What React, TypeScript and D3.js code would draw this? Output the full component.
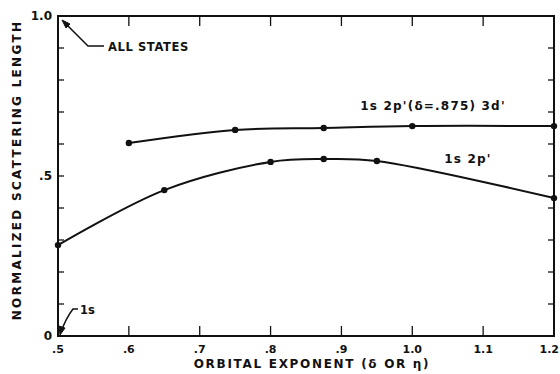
import React from "react";
import * as d3 from "d3";

const xTickValues = [0.5, 0.6, 0.7, 0.8, 0.9, 1.0, 1.1, 1.2];
const xTickLabels = [".5", ".6", ".7", ".8", ".9", "1.0", "1.1", "1.2"];
const yTickValues = [0, 0.5, 1.0];
const yTickLabels = ["0", ".5", "1.0"];

// 1s 2p'(δ=.875) 3d'
const upperX = [0.6, 0.75, 0.875, 1.0, 1.2];
const upperY = [0.603, 0.644, 0.65, 0.656, 0.656];
// 1s 2p'
const lowerX = [0.5, 0.65, 0.8, 0.875, 0.95, 1.2];
const lowerY = [0.284, 0.456, 0.544, 0.553, 0.547, 0.431];

const W = 560, H = 374;
const left = 58, right = 554, top = 16, bottom = 336;
const font = "'DejaVu Sans', sans-serif";

export default function App() {
  const x = d3.scaleLinear().domain([0.5, 1.2]).range([left, right]);
  const y = d3.scaleLinear().domain([0, 1]).range([bottom, top]);
  const line = d3.line<[number, number]>()
    .x(d => x(d[0])).y(d => y(d[1]))
    .curve(d3.curveCatmullRom.alpha(0.5));
  const upper = upperX.map((v, i) => [v, upperY[i]] as [number, number]);
  const lower = lowerX.map((v, i) => [v, lowerY[i]] as [number, number]);
  const minorY = d3.range(1, 10).map(i => i / 10);
  const minorX = d3.range(1, 7).map(i => 0.5 + i / 10);

  return (
    <svg width={W} height={H} style={{ position: "absolute", left: 0, top: 0, background: "#fff" }}>
      <g stroke="#111" fill="none" strokeWidth={2}>
        <rect x={left} y={top} width={right - left} height={bottom - top} strokeWidth={2} />
        {minorX.map(v => (
          <g key={v}>
            <line x1={x(v)} x2={x(v)} y1={bottom} y2={bottom - 10} strokeWidth={1.3} />
            <line x1={x(v)} x2={x(v)} y1={top} y2={top + 10} strokeWidth={1.3} />
          </g>
        ))}
        {minorY.map(v => (
          <g key={v}>
            <line x1={left} x2={left + 6} y1={y(v)} y2={y(v)} strokeWidth={1.3} />
            <line x1={right} x2={right - 6} y1={y(v)} y2={y(v)} strokeWidth={1.3} />
          </g>
        ))}
        <path d={line(upper) || ""} strokeWidth={2} />
        <path d={line(lower) || ""} strokeWidth={2} />
        {/* ALL STATES pointer */}
        <path d="M104,46 L88,46 L64,22" strokeWidth={1.5} />
        <path d="M62,20 L70,24 L66,28 Z" fill="#111" strokeWidth={1} />
        {/* 1s pointer */}
        <path d="M78,309 L73,309 Q66,318 61,332" strokeWidth={1.5} />
        <path d="M60,335 L59,326 L65,328 Z" fill="#111" strokeWidth={1} />
      </g>
      <g fill="#111">
        {upper.map((d, i) => <circle key={"u" + i} cx={x(d[0])} cy={y(d[1])} r={3.2} />)}
        {lower.map((d, i) => <circle key={"l" + i} cx={x(d[0])} cy={y(d[1])} r={3.2} />)}
      </g>
      <g fontFamily={font} fontWeight="bold" fontSize={11} fill="#111">
        {xTickValues.map((v, i) => (
          <text key={v} x={i === xTickValues.length - 1 ? 559 : x(v)} y={353}
            textAnchor={i === xTickValues.length - 1 ? "end" : "middle"}>{xTickLabels[i]}</text>
        ))}
        {yTickValues.map((v, i) => (
          <text key={v} x={left - 6} y={y(v) + 4} textAnchor="end" fontSize={12}>{yTickLabels[i]}</text>
        ))}
        <text x={312} y={368} textAnchor="middle" fontSize={12} letterSpacing={1.7}>ORBITAL EXPONENT (δ OR η)</text>
        <text transform={`translate(21,170) rotate(-90)`} textAnchor="middle" fontSize={12} letterSpacing={2.3}>NORMALIZED SCATTERING LENGTH</text>
        <text x={108} y={51} fontSize={11.5} letterSpacing={0.6}>ALL STATES</text>
        <text x={80} y={314} fontSize={11.5}>1s</text>
        <text x={433} y={110} textAnchor="middle" fontSize={12} letterSpacing={1.2}>1s  2p'(δ=.875) 3d'</text>
        <text x={468} y={163} textAnchor="middle" fontSize={12} letterSpacing={1.2}>1s  2p'</text>
      </g>
    </svg>
  );
}
